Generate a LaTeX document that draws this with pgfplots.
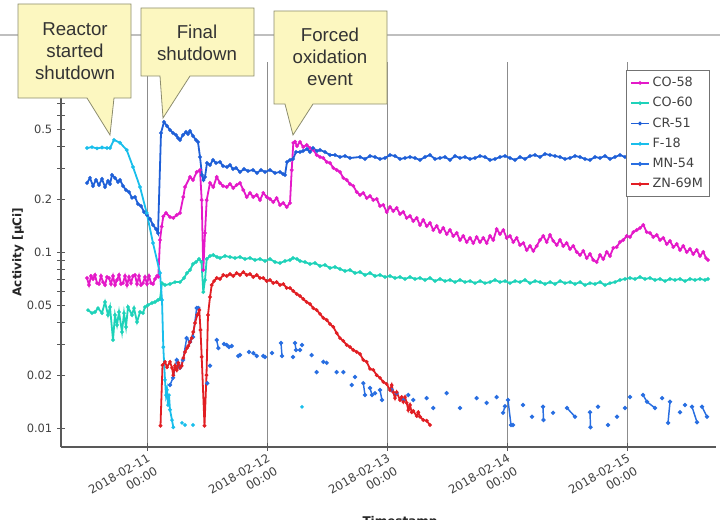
\documentclass[border=0pt]{standalone}
\usepackage{pgfplots}
\pgfplotsset{compat=1.18}
\usepackage{fontspec}
\setmainfont{DejaVu Sans}
\newfontfamily\callfont{Liberation Sans}
\definecolor{cCOa}{RGB}{228,25,200}
\definecolor{cCOb}{RGB}{30,210,185}
\definecolor{cCR}{RGB}{30,95,215}
\definecolor{cF}{RGB}{25,190,235}
\definecolor{cMN}{RGB}{40,110,225}
\definecolor{cZN}{RGB}{225,30,35}
\definecolor{callfill}{RGB}{252,247,192}
\definecolor{calldraw}{RGB}{140,140,110}
\begin{document}
\begin{tikzpicture}[x=0.75pt,y=0.75pt]
\path[use as bounding box] (0,0) rectangle (720,519);
\draw[black!25, line width=1.2pt] (0,484) -- (720,484);
\begin{axis}[
  scale only axis, width=491.25pt, height=288.75pt,
  at={(45.75pt,54pt)}, anchor=south west,
  xmin=6.8, xmax=137.8, ymode=log, ymin=0.0078, ymax=1.21,
  axis lines*=left, axis line style={-, draw=black!65, line width=0.9pt},
  xtick={24,48,72,96,120},
  xticklabels={{2018-02-11\\00:00},{2018-02-12\\00:00},{2018-02-13\\00:00},{2018-02-14\\00:00},{2018-02-15\\00:00}},
  xticklabel style={rotate=30, anchor=north east, align=right, font=\fontsize{8.8}{11.5}\selectfont, text=black!75, inner sep=1pt},
  ytick={0.01,0.02,0.05,0.1,0.2,0.5}, yticklabels={0.01,0.02,0.05,0.1,0.2,0.5},
  minor ytick={0.03,0.04,0.06,0.07,0.08,0.09,0.3,0.4,0.6,0.7,0.8,0.9,1},
  yticklabel style={font=\fontsize{8.6}{10}\selectfont, text=black!75},
  tick align=center, major tick length=6pt, minor tick length=6pt,
  tick style={black!65, line width=0.6pt},
  xmajorgrids, major grid style={black!45, line width=0.5pt},
  unbounded coords=jump,
  every axis plot/.append style={line width=1.35pt, mark=*, mark size=0.6pt},
  legend style={at={(0.9908,0.979)}, anchor=north east, draw=black!55, line width=0.6pt, fill=white,
    font=\fontsize{9.6}{10.5}\selectfont, text=black!75, inner xsep=3pt, inner ysep=3pt, row sep=2.6pt},
  legend cell align=left,
  legend image code/.code={\draw[#1, mark repeat=2, mark phase=2] plot coordinates {(0pt,0pt) (6.75pt,0pt) (13.5pt,0pt)};},
]
% CO-58
\addplot[color=cCOa] coordinates {
(12.0,0.0714)(12.4,0.0651)(12.8,0.0733)(13.2,0.0705)(13.6,0.0743)(14.0,0.0668)(14.4,0.0660)(14.8,0.0733)(15.2,0.0677)(15.6,0.0651)(16.0,0.0723)(16.4,0.0714)(16.8,0.0660)(17.2,0.0733)(17.6,0.0651)(18.0,0.0696)(18.4,0.0743)(18.8,0.0660)(19.2,0.0668)(19.6,0.0733)(20.0,0.0651)(20.4,0.0723)(20.8,0.0668)(21.2,0.0733)(21.6,0.0743)(22.0,0.0660)(22.4,0.0733)(22.8,0.0651)(23.2,0.0668)(23.6,0.0723)(24.0,0.0660)(24.4,0.0733)(24.8,0.0668)(25.2,0.0660)(25.6,0.0705)(26.0,0.0733)
(26.26,0.0726)(26.6,0.1175)(26.94,0.140)(27.26,0.1602)(27.8,0.1674)(28.6,0.1588)(29.26,0.1568)(29.94,0.163)(30.6,0.1674)(31.26,0.2064)(31.6,0.2353)(32.6,0.2682)(33.2,0.2579)(33.94,0.2864)(34.6,0.294)(34.94,0.1984)(35.26,0.0793)(35.6,0.1288)(35.94,0.1984)(36.6,0.2481)(37.26,0.2353)(37.94,0.2682)(38.6,0.2481)(39.2,0.2385)(39.94,0.2353)(40.6,0.2448)(41.26,0.2322)(41.94,0.2416)(42.6,0.2481)(43.26,0.2262)(43.94,0.2064)(44.6,0.2176)(45.26,0.2064)(45.94,0.2119)(46.6,0.1984)(47.26,0.2176)(47.94,0.2064)(48.6,0.201)(49.26,0.1932)(49.94,0.2036)(50.6,0.1859)(51.26,0.1909)(51.94,0.1811)(52.6,0.1909)(52.94,0.294)(53.26,0.419)(53.6,0.426)(54.0,0.4027)(54.6,0.4243)(55.26,0.3974)(55.94,0.408)(56.6,0.3924)(57.26,0.3821)(57.94,0.3579)(58.6,0.3486)(59.26,0.344)(59.94,0.3265)(60.6,0.3224)(61.26,0.302)(61.94,0.294)(62.6,0.2864)(63.26,0.2649)(63.94,0.2579)(64.6,0.2448)(65.26,0.2385)(65.94,0.2203)(66.6,0.2119)(67.26,0.2176)(67.94,0.2036)(68.6,0.2091)(69.26,0.1984)(69.94,0.201)(70.6,0.1835)(71.26,0.1859)(71.94,0.1696)(72.6,0.1811)(73.26,0.1718)(73.94,0.1788)(74.6,0.1651)(75.26,0.1696)(75.94,0.1568)(76.6,0.1609)(77.26,0.1507)(77.94,0.1568)(78.6,0.143)(79.26,0.1527)(79.94,0.1411)(80.6,0.1469)(81.26,0.1339)(81.94,0.1411)(82.6,0.1304)(83.26,0.1375)(83.94,0.127)(84.6,0.1339)(85.26,0.1238)(85.94,0.1288)(86.6,0.1175)(87.26,0.1238)(87.94,0.1144)(88.6,0.1207)(89.26,0.1129)(89.94,0.1221)(90.6,0.1144)(91.26,0.1207)(91.94,0.1129)(92.6,0.1238)(93.26,0.1175)(93.94,0.1356)(94.6,0.127)(95.26,0.1339)(95.94,0.1207)(96.6,0.1238)(97.26,0.1144)(97.94,0.1207)(98.6,0.11)(99.26,0.1129)(99.94,0.1031)(100.6,0.1086)(101.26,0.1018)(101.94,0.1086)(102.6,0.1175)(103.26,0.1238)(103.94,0.1144)(104.6,0.1254)(105.26,0.116)(105.94,0.11)(106.6,0.1175)(107.26,0.1086)(107.94,0.1129)(108.6,0.1044)(109.26,0.1086)(109.94,0.1004)(110.6,0.0965)(111.26,0.1018)(111.94,0.0927)(112.6,0.0978)(113.26,0.0904)(113.94,0.088)(114.6,0.0965)(115.26,0.0916)(115.94,0.1004)(116.6,0.0953)(117.26,0.1059)(117.94,0.1071)(118.6,0.1144)(119.26,0.1175)(119.94,0.1238)(120.6,0.1221)(121.26,0.1304)(121.94,0.1339)(122.6,0.1375)(123.26,0.143)(123.94,0.1304)(124.6,0.1288)(125.26,0.1221)(125.94,0.1254)(126.6,0.1175)(127.26,0.1207)(127.94,0.1115)(128.6,0.116)(129.26,0.1071)(129.94,0.1115)(130.6,0.1031)(131.26,0.1086)(131.94,0.1004)(132.6,0.1044)(133.26,0.0978)(133.94,0.1031)(134.6,0.0953)(135.26,0.1004)(135.8,0.0927)(136.2,0.0904)
};
\addlegendentry{CO-58}
% CO-60
\addplot[color=cCOb] coordinates {
(12.2,0.0469)(13.0,0.0451)(13.6,0.0457)(14.2,0.0481)(15.0,0.0451)(15.6,0.0521)(16.2,0.044)(16.6,0.0488)(17.2,0.0317)(17.6,0.044)(18.0,0.0386)(18.4,0.0457)(19.0,0.0352)(19.4,0.0451)(19.8,0.0376)(20.2,0.0488)(21.0,0.044)(21.4,0.0481)(22.0,0.0401)(22.6,0.0457)(23.2,0.0451)(23.6,0.0488)(24.2,0.0501)(25.0,0.0515)(25.6,0.0521)(26.2,0.0535)(26.6,0.0542)(27.0,0.0668)(27.6,0.0651)(28.6,0.066)(29.6,0.0677)(30.6,0.0677)(31.4,0.0714)(32.0,0.0762)(32.6,0.0793)(33.2,0.0858)(33.8,0.088)(34.4,0.0916)(34.9,0.088)(35.26,0.0594)(35.6,0.0696)(35.94,0.0916)(36.6,0.0953)(37.26,0.0965)(38.0,0.094)(38.6,0.0928)(39.6,0.0953)(40.6,0.094)(41.6,0.0928)(42.6,0.094)(43.6,0.0916)(44.6,0.0928)(45.6,0.0904)(46.6,0.0916)(47.6,0.0892)(48.6,0.0916)(49.6,0.088)(50.6,0.0869)(51.6,0.0892)(52.6,0.0904)(53.2,0.0928)(54.0,0.0916)(54.6,0.0892)(55.6,0.088)(56.6,0.0858)(57.6,0.0869)(58.6,0.0836)(59.6,0.0847)(60.6,0.0814)(61.6,0.0825)(62.6,0.0803)(63.6,0.0783)(64.6,0.0793)(65.6,0.0762)(66.6,0.0772)(67.6,0.0743)(68.6,0.0762)(69.6,0.0733)(70.6,0.0743)(71.6,0.0723)(72.6,0.0733)(73.6,0.0714)(74.6,0.0723)(75.6,0.0705)(76.6,0.0723)(77.6,0.0705)(78.6,0.0714)(79.6,0.0696)(80.6,0.0714)(81.6,0.0686)(82.6,0.0705)(83.6,0.0686)(84.6,0.0696)(85.6,0.0677)(86.6,0.0696)(87.6,0.0677)(88.6,0.0686)(89.6,0.0668)(90.6,0.0686)(91.6,0.0668)(92.6,0.0677)(93.6,0.0696)(94.6,0.0677)(95.6,0.0686)(96.6,0.0668)(97.6,0.0686)(98.6,0.0677)(99.6,0.0696)(100.6,0.0668)(101.6,0.0686)(102.6,0.0677)(103.6,0.066)(104.6,0.0677)(105.6,0.066)(106.6,0.0686)(107.6,0.0668)(108.6,0.0677)(109.6,0.066)(110.6,0.0677)(111.6,0.0651)(112.6,0.0668)(113.6,0.066)(114.6,0.0677)(115.6,0.0651)(116.6,0.0668)(117.6,0.0677)(118.6,0.0696)(119.6,0.0705)(120.6,0.0714)(121.6,0.0705)(122.6,0.0723)(123.6,0.0705)(124.6,0.0714)(125.6,0.0696)(126.6,0.0705)(127.6,0.0686)(128.6,0.0705)(129.6,0.0696)(130.6,0.0705)(131.6,0.0686)(132.6,0.0705)(133.6,0.0696)(134.6,0.0705)(135.6,0.0696)(136.2,0.0705)
};
\addlegendentry{CO-60}
% CR-51
\addplot[color=cCR] coordinates {
(12.0,0.248)(12.6,0.265)(13.2,0.2385)(13.8,0.258)(14.4,0.2416)(15.0,0.2613)(15.6,0.2353)(16.2,0.2546)(16.6,0.2448)(17.0,0.2754)(17.6,0.2649)(18.2,0.2512)(18.6,0.2579)(19.2,0.2385)(19.8,0.2262)(20.4,0.2203)(21.0,0.204)(21.6,0.2064)(22.2,0.1883)(22.8,0.1835)(23.4,0.1696)(24.0,0.163)(24.6,0.1547)(25.2,0.143)(25.8,0.1357)(26.2,0.1287)(26.8,0.4777)(27.4,0.5515)(28.0,0.5234)(28.6,0.4966)(29.2,0.4777)(29.8,0.4651)(30.2,0.447)(30.6,0.4356)(31.2,0.4651)(31.8,0.4837)(32.2,0.4711)(32.6,0.4901)(33.2,0.4591)(33.8,0.4356)(34.2,0.4243)(34.6,0.3486)(35.0,0.2754)(35.3,0.2579)(35.6,0.2682)(36.0,0.3224)(36.6,0.3139)(37.2,0.3352)(37.8,0.3224)(38.6,0.3265)(39.2,0.3098)(40.0,0.3057)(40.6,0.3139)(41.2,0.2978)(41.8,0.3019)(42.6,0.2864)(43.4,0.2978)(44.2,0.2902)(45.2,0.294)(46.0,0.2828)(46.8,0.294)(47.6,0.2864)(48.6,0.294)(49.6,0.2828)(50.6,0.2864)(51.2,0.279)(51.6,0.2754)(52.0,0.3265)(52.6,0.3352)(53.2,0.3396)(53.8,0.3722)(54.6,0.3722)(55.2,0.3771)(56.0,0.3871)(56.6,0.3722)(57.2,0.3924)(58.0,0.3771)(58.6,0.3821)(59.6,0.3722)(60.6,0.3579)(61.6,0.3579)(62.6,0.3486)(63.6,0.3532)(64.6,0.344)(66.6,0.3486)
(67.6,0.3396)(68.6,0.3532)(69.6,0.3486)(70.6,0.3396)(71.6,0.344)(72.6,0.3579)(73.6,0.3532)(74.6,0.3396)(75.6,0.344)(76.6,0.3486)(77.6,0.344)(78.6,0.3352)(79.6,0.3486)(80.6,0.3579)(81.6,0.3396)(82.6,0.344)(83.6,0.3486)(84.6,0.3352)(85.6,0.3532)(86.6,0.344)(87.6,0.3486)(88.6,0.3396)(89.6,0.344)(90.6,0.3532)(91.6,0.3486)(92.6,0.3352)(93.6,0.3396)(94.6,0.3486)(95.6,0.3532)(96.6,0.344)(97.6,0.3352)(98.6,0.3486)(99.6,0.3396)(100.6,0.3532)(101.6,0.3579)(102.6,0.3486)(103.6,0.3626)(104.6,0.3579)(105.6,0.3532)(106.6,0.3486)(107.6,0.3396)(108.6,0.344)(109.6,0.3532)(110.6,0.3486)(111.6,0.3396)(112.6,0.3352)(113.6,0.3486)(114.6,0.344)(115.6,0.3532)(116.6,0.3396)(117.6,0.3486)(118.6,0.3579)(119.6,0.3486)(120.6,0.3532)(121.6,0.344)(122.6,0.3486)(123.6,0.344)(124.6,0.3532)(125.6,0.3486)(126.6,0.344)(127.6,0.3532)(128.6,0.3486)(129.6,0.3396)(130.6,0.3486)(131.6,0.344)(132.6,0.3532)(133.6,0.3486)(134.6,0.344)(135.8,0.3486)
};
\addlegendentry{CR-51}
% F-18
\addplot[color=cF] coordinates {
(12.0,0.392)(13.0,0.397)(14.0,0.390)(15.0,0.395)(16.0,0.392)(16.6,0.392)(17.4,0.436)(18.6,0.420)(19.94,0.382)(21.2,0.306)(22.6,0.2353)(23.94,0.1674)(25.2,0.1129)(26.6,0.0762)(27.0,0.0535)(27.26,0.0289)(27.6,0.0188)(27.8,0.0154)(28.0,0.0165)(28.2,0.0135)(28.4,0.0154)(28.6,0.0127)(29.0,0.0111)(29.26,0.0101)
(nan,nan)(31.0,0.0107)(nan,nan)(31.6,0.0104)(nan,nan)(33.2,0.0104)(nan,nan)(55.0,0.0132)
};
\addlegendentry{F-18}
% MN-54
\addplot[color=cMN, line width=1.1pt, mark size=1.0pt] coordinates {
(28.6,0.01757)(29.2,0.0193)(29.94,0.0244)(30.6,0.022)(31.2,0.0244)(31.94,0.0325)(32.6,0.0309)(33.2,0.033)(33.94,0.0482)(34.26,0.0482)
(nan,nan)(36.06,0.018)(nan,nan)(36.6,0.0226)(nan,nan)(37.94,0.0317)(38.26,0.0285)(nan,nan)(39.4,0.0301)(nan,nan)(39.94,0.0297)(40.4,0.0289)(nan,nan)(40.94,0.0293)(nan,nan)(42.26,0.0257)(nan,nan)(42.6,0.026)(nan,nan)(44.4,0.0271)(nan,nan)(45.26,0.0267)(45.94,0.0257)(nan,nan)(47.26,0.0257)(47.6,0.0254)(nan,nan)(49.0,0.0267)(nan,nan)(50.8,0.0305)(51.0,0.0257)(nan,nan)(53.2,0.0254)(nan,nan)(53.6,0.0305)(53.8,0.0278)(nan,nan)(54.6,0.0278)(nan,nan)(55.0,0.0297)(nan,nan)(56.94,0.026)(nan,nan)(57.94,0.0208)(nan,nan)(59.26,0.0238)(nan,nan)(59.94,0.0235)(nan,nan)(61.94,0.0208)(nan,nan)(63.26,0.0208)(nan,nan)(64.94,0.01757)(nan,nan)(65.6,0.0195)(nan,nan)(67.26,0.018)(67.6,0.01541)(nan,nan)(68.6,0.0169)(69.0,0.01541)(nan,nan)(69.6,0.0158)(nan,nan)(70.6,0.01645)(71.0,0.01443)(nan,nan)(72.94,0.01645)(nan,nan)(73.94,0.0158)(nan,nan)(75.26,0.01443)(nan,nan)(76.26,0.01541)(nan,nan)(77.26,0.01443)(nan,nan)(79.94,0.0148)(nan,nan)(81.26,0.013)(nan,nan)(83.94,0.0158)(nan,nan)(86.6,0.013)(nan,nan)(89.94,0.0148)(nan,nan)(91.94,0.0139)(nan,nan)(93.94,0.015)(nan,nan)(95.2,0.0122)(95.6,0.0133)(nan,nan)(96.2,0.01443)(96.8,0.0104)(97.2,0.0104)(nan,nan)(99.2,0.01352)(nan,nan)(101.0,0.0116)(nan,nan)(103.2,0.0132)(103.3,0.01111)(nan,nan)(105.2,0.0122)(nan,nan)(108.0,0.013)(109.6,0.0116)(nan,nan)(112.6,0.0123)(112.7,0.0101)(nan,nan)(114.2,0.0132)(nan,nan)(116.2,0.0104)(nan,nan)(118.0,0.0116)(nan,nan)(119.6,0.013)(nan,nan)(120.6,0.015)(nan,nan)(123.2,0.01541)(124.0,0.0141)(125.6,0.013)(nan,nan)(127.0,0.0148)(nan,nan)(128.2,0.0107)(128.6,0.0141)(nan,nan)(130.6,0.0123)(nan,nan)(131.6,0.01352)(nan,nan)(133.0,0.0132)(134.0,0.0108)(nan,nan)(135.0,0.0132)(136.0,0.0116)
};
\addlegendentry{MN-54}
% ZN-69M
\addplot[color=cZN] coordinates {
(26.7,0.0103)(27.1,0.0228)(27.6,0.0238)(28.0,0.0222)(28.6,0.0238)(29.0,0.0220)(29.26,0.0200)(29.6,0.0226)(29.94,0.0214)(30.26,0.0235)(30.6,0.0220)(30.94,0.0226)(31.26,0.0250)(31.6,0.0271)(32.0,0.0285)(32.26,0.0293)(32.6,0.0309)(32.94,0.0325)(33.26,0.0352)(33.6,0.0396)(34.06,0.0440)(34.46,0.0469)(34.7,0.0361)(34.94,0.0254)(35.5,0.0103)(35.9,0.0200)(36.2,0.0440)(36.6,0.0557)(36.94,0.0651)(37.4,0.0686)(37.94,0.0714)(38.6,0.0705)(39.26,0.0743)(39.94,0.0733)(40.6,0.0752)(41.26,0.0733)(41.94,0.0762)(42.6,0.0743)(43.26,0.0772)(43.94,0.0743)(44.6,0.0752)(45.26,0.0723)(45.94,0.0743)(46.6,0.0714)(47.26,0.0714)(47.94,0.0686)(48.6,0.0696)(49.26,0.0668)(49.94,0.0677)(50.6,0.0651)(51.26,0.066)(51.94,0.0627)(52.6,0.0627)(53.26,0.0602)(53.94,0.0579)(54.6,0.0564)(55.26,0.0542)(55.94,0.0521)(56.6,0.0508)(57.26,0.0481)(57.94,0.0469)(58.6,0.0446)(59.26,0.0423)(59.94,0.0412)(60.6,0.0391)(61.26,0.0376)(61.94,0.0347)(62.6,0.0325)(63.26,0.0313)(63.94,0.0297)(64.6,0.0289)(65.26,0.0278)(65.94,0.0271)(66.6,0.0264)(67.26,0.0244)(67.94,0.0238)(68.6,0.0217)(69.26,0.0214)(69.94,0.0200)(70.6,0.0193)(71.26,0.0183)(71.94,0.0178)(72.6,0.01645)(72.94,0.01757)(73.26,0.0160)(73.6,0.0148)(73.94,0.0160)(74.6,0.01443)(74.94,0.0150)(75.26,0.0141)(75.6,0.0150)(75.94,0.0139)(76.26,0.01266)(76.6,0.01352)(76.94,0.0123)(77.26,0.0125)(77.94,0.0117)(78.26,0.0123)(78.6,0.0116)(79.26,0.0111)(79.94,0.0110)(80.6,0.0104)
};
\addlegendentry{ZN-69M}
\end{axis}
% y label and x label
\node[rotate=90, font=\bfseries\fontsize{9}{10}\selectfont, text=black!85] at (18,267) {Activity [µCi]};
\node[font=\bfseries\fontsize{9}{10}\selectfont, text=black!85] at (400,-3) {Timestamp};
% callouts
\begin{scope}[fill=callfill, draw=calldraw, line width=0.6pt]
\filldraw (18,515) -- (131,515) -- (131,421) -- (114,421) -- (110,384) -- (87,421) -- (18,421) -- cycle;
\filldraw (141,511) -- (254,511) -- (254,443) -- (190,443) -- (163,401) -- (160,443) -- (141,443) -- cycle;
\filldraw (274,508) -- (387,508) -- (387,415) -- (313,415) -- (293,384) -- (285,415) -- (274,415) -- cycle;
\end{scope}
\node[align=center, font=\callfont\fontsize{14}{16.5}\selectfont, text=black!80] at (75,468) {Reactor\\started\\shutdown};
\node[align=center, font=\callfont\fontsize{14}{16.5}\selectfont, text=black!80] at (197,476) {Final\\shutdown};
\node[align=center, font=\callfont\fontsize{14}{16.5}\selectfont, text=black!80] at (330,462) {Forced\\oxidation\\event};
\end{tikzpicture}
\end{document}
